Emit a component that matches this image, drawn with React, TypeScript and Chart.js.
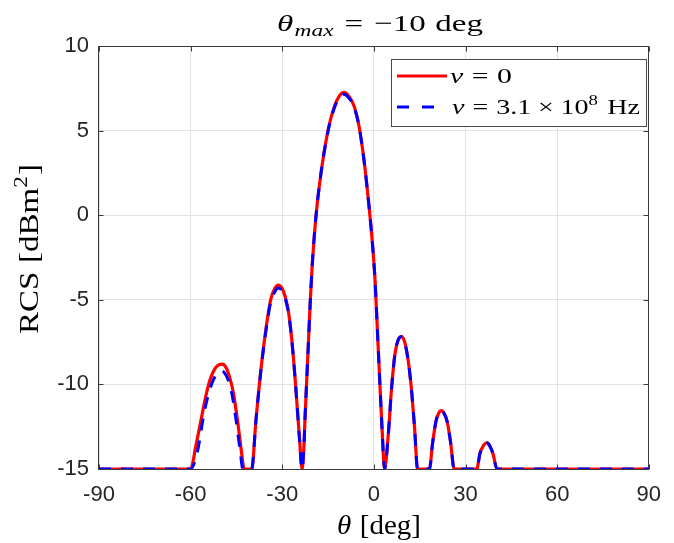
import React, { useEffect, useRef } from 'react';
import { Chart, registerables } from 'chart.js';

Chart.register(...registerables);

// ---- data ----
const thetaRed = [
  -90, -60, -58.3, -56.7, -55.1, -53.6, -52.0, -50.5, -49.6, -48.4, -47.2, -46.0, -44.6, -43.2, -42.5,
  -40.0, -38.6, -37.0, -35.4, -33.8, -32.5, -31.3, -30.0, -28.9, -27.8, -26.6, -25.4, -24.4, -23.5,
  -23.0, -22.5, -22.0, -21.4, -20.8, -20.2, -19.5, -18.6, -17.6, -16.4, -14.8, -13.0, -11.3, -9.8,
  -8.3, -6.5, -4.8, -3.2, -1.8, -0.6, 0.4, 1.1, 1.9, 2.7, 3.5,
  4.7, 5.8, 6.9, 8.0, 9.0, 10.0, 10.8, 11.6, 12.4, 13.3, 14.3,
  18.2, 19.2, 20.3, 21.2, 22.1, 23.1, 24.0, 25.1, 26.3,
  33.7, 34.7, 35.9, 37.0, 38.0, 39.0, 40.3, 90,
];
const rcsRed = [
  -15, -15, -13.65, -12.2, -10.75, -9.7, -9.05, -8.82, -8.8, -9.0, -9.6, -10.5, -12.2, -14.2, -15,
  -15, -12.1, -9.15, -6.8, -5.0, -4.35, -4.13, -4.35, -4.9, -5.9, -7.9, -10.6, -13.1, -15,
  -14.0, -11.8, -9.8, -7.4, -5.0, -3.0, -1.2, 0.6, 2.1, 3.6, 5.2, 6.4, 7.05, 7.26,
  7.05, 6.45, 5.2, 3.2, 0.9, -1.4, -3.9, -6.6, -9.7, -12.7, -15,
  -13.0, -10.2, -8.2, -7.35, -7.18, -7.45, -8.1, -9.1, -10.5, -12.5, -15,
  -15, -13.5, -12.2, -11.7, -11.55, -11.75, -12.2, -13.4, -15,
  -15, -14.1, -13.6, -13.45, -13.65, -14.1, -15, -15,
];
const thetaBlue = [
  -90, -60, -57.8, -55.7, -54.2, -52.6, -51.2, -50.2, -49.0, -47.8, -46.6, -45.2, -43.8, -42.9,
  -40.0, -38.6, -37.0, -35.4, -33.8, -32.5, -31.3, -30.0, -28.9, -27.8, -26.6, -25.4, -24.4, -23.5,
  -23.0, -22.5, -22.0, -21.4, -20.8, -20.2, -19.5, -18.6, -17.6, -16.4, -14.8, -13.0, -11.3, -9.8,
  -8.3, -6.5, -4.8, -3.2, -1.8, -0.6, 0.4, 1.1, 1.9, 2.7, 3.5,
  4.7, 5.8, 6.9, 8.0, 9.0, 10.0, 10.8, 11.6, 12.4, 13.3, 14.3,
  18.2, 19.2, 20.3, 21.2, 22.1, 23.1, 24.0, 25.1, 26.3,
  33.7, 34.7, 35.9, 37.0, 38.0, 39.0, 40.3, 90,
];
const rcsBlue = [
  -15, -15, -14.0, -11.8, -10.6, -9.75, -9.33, -9.22, -9.3, -9.7, -10.45, -12.0, -13.9, -15,
  -15, -12.1, -9.2, -6.9, -5.15, -4.55, -4.3, -4.5, -5.0, -5.95, -7.9, -10.6, -13.1, -15,
  -14.0, -11.8, -9.8, -7.4, -5.0, -3.0, -1.2, 0.6, 2.1, 3.6, 5.15, 6.3, 6.95, 7.15,
  6.95, 6.4, 5.2, 3.2, 0.9, -1.4, -3.9, -6.6, -9.7, -12.7, -15,
  -13.0, -10.2, -8.2, -7.35, -7.18, -7.45, -8.1, -9.1, -10.5, -12.5, -15,
  -15, -13.5, -12.2, -11.7, -11.55, -11.75, -12.2, -13.4, -15,
  -15, -14.1, -13.6, -13.45, -13.65, -14.1, -15, -15,
];
const xTicks = [-90, -60, -30, 0, 30, 60, 90];
const yTicks = [-15, -10, -5, 0, 5, 10];
const seriesLabels = ['ν = 0', 'ν = 3.1 × 10^8 Hz'];

type Part = { t: string; s: number; i?: boolean; dy?: number; g?: number };

const serif = (size: number, italic?: boolean) =>
  `${italic ? 'italic ' : ''}${size}px "Liberation Serif", "DejaVu Serif", serif`;

function drawRich(ctx: CanvasRenderingContext2D, parts: Part[], x: number, y: number, align: 'center' | 'left', target?: number) {
  ctx.save();
  ctx.textBaseline = 'alphabetic';
  ctx.textAlign = 'left';
  ctx.fillStyle = '#000';
  const ws = parts.map((p) => {
    ctx.font = serif(p.s, p.i);
    return ctx.measureText(p.t).width;
  });
  let total = 0;
  parts.forEach((p, k) => (total += (p.g || 0) + ws[k]));
  const sx = target ? target / total : 1;
  ctx.translate(x, y);
  ctx.scale(sx, 1);
  let cx = align === 'center' ? -total / 2 : 0;
  parts.forEach((p, k) => {
    cx += p.g || 0;
    ctx.font = serif(p.s, p.i);
    ctx.fillText(p.t, cx, p.dy || 0);
    cx += ws[k];
  });
  ctx.restore();
}

const framePlugin = {
  id: 'frame',
  beforeDatasetsDraw(chart: any) {
    const { ctx, chartArea: a, scales } = chart;
    ctx.save();
    ctx.strokeStyle = '#3a3a3a';
    ctx.lineWidth = 1;
    const l = Math.round(a.left) - 0.5;
    const r = Math.round(a.right) - 0.5;
    const t = Math.round(a.top) + 0.5;
    const b = Math.round(a.bottom) + 0.5;
    ctx.strokeRect(l, t, r - l, b - t);
    ctx.beginPath();
    xTicks.forEach((v) => {
      const px = Math.round(scales.x.getPixelForValue(v)) + 0.5;
      ctx.moveTo(px, b); ctx.lineTo(px, b - 5);
      ctx.moveTo(px, t); ctx.lineTo(px, t + 5);
    });
    yTicks.forEach((v) => {
      const py = Math.round(scales.y.getPixelForValue(v)) + 0.5;
      ctx.moveTo(l, py); ctx.lineTo(l + 5, py);
      ctx.moveTo(r, py); ctx.lineTo(r - 5, py);
    });
    ctx.stroke();
    ctx.restore();
  },
  afterDraw(chart: any) {
    const { ctx } = chart;
    // title
    drawRich(ctx, [
      { t: 'θ', s: 24, i: true },
      { t: 'max', s: 17, i: true, dy: 5, g: 1 },
      { t: '=', s: 24, g: 8 },
      { t: '−10', s: 24, g: 8 },
      { t: 'deg', s: 24, g: 7 },
    ], 380, 31, 'center', 206);
    // x label
    drawRich(ctx, [
      { t: 'θ', s: 27, i: true },
      { t: '[deg]', s: 27, g: 8 },
    ], 379, 534, 'center', 84);
    // y label (rotated)
    ctx.save();
    ctx.translate(38, 249);
    ctx.rotate(-Math.PI / 2);
    drawRich(ctx, [
      { t: 'RCS', s: 27 },
      { t: '[dBm', s: 27, g: 7 },
      { t: '2', s: 19, dy: -11 },
      { t: ']', s: 27, g: 1 },
    ], 0, 0, 'center', 170);
    ctx.restore();
    // legend
    ctx.save();
    ctx.fillStyle = '#fff';
    ctx.fillRect(392, 59, 255, 67);
    ctx.strokeStyle = '#4a4a4a';
    ctx.lineWidth = 1;
    ctx.strokeRect(391.5, 59.5, 255, 67);
    ctx.lineWidth = 3;
    ctx.strokeStyle = '#ff0000';
    ctx.beginPath(); ctx.moveTo(397, 76); ctx.lineTo(447, 76); ctx.stroke();
    ctx.strokeStyle = '#0000ff';
    ctx.setLineDash([12, 13]);
    ctx.beginPath(); ctx.moveTo(397, 107); ctx.lineTo(447, 107); ctx.stroke();
    ctx.setLineDash([]);
    ctx.restore();
    drawRich(ctx, [
      { t: 'ν', s: 21, i: true },
      { t: '=', s: 21, g: 6 },
      { t: '0', s: 21, g: 6 },
    ], 450, 83, 'left', 62);
    drawRich(ctx, [
      { t: 'ν', s: 21, i: true },
      { t: '=', s: 21, g: 6 },
      { t: '3.1', s: 21, g: 6 },
      { t: '×', s: 21, g: 5 },
      { t: '10', s: 21, g: 5 },
      { t: '8', s: 14, dy: -9 },
      { t: 'Hz', s: 21, g: 7 },
    ], 452, 114, 'left', 188);
  },
};

export default function App() {
  const ref = useRef<HTMLCanvasElement | null>(null);
  useEffect(() => {
    if (!ref.current) return;
    const red = thetaRed.map((x, k) => ({ x, y: rcsRed[k] }));
    const blue = thetaBlue.map((x, k) => ({ x, y: rcsBlue[k] }));
    const tickFont = { family: '"Liberation Sans", Arial, sans-serif', size: 22 };
    const chart = new Chart(ref.current, {
      type: 'line',
      data: {
        datasets: [
          {
            label: seriesLabels[1],
            data: blue,
            borderColor: '#0000ff',
            borderWidth: 3,
            borderDash: [12, 10],
            pointRadius: 0,
            cubicInterpolationMode: 'monotone',
            fill: false,
          },
          {
            label: seriesLabels[0],
            data: red,
            borderColor: '#ff0000',
            borderWidth: 3.2,
            pointRadius: 0,
            cubicInterpolationMode: 'monotone',
            fill: false,
          },
        ],
      },
      options: {
        responsive: false,
        animation: false,
        devicePixelRatio: 1,
        layout: { padding: { top: 46, right: 15, left: 0, bottom: 0 } },
        plugins: { legend: { display: false }, title: { display: false }, tooltip: { enabled: false } },
        scales: {
          x: {
            type: 'linear',
            min: -90,
            max: 90,
            afterBuildTicks: (s: any) => { s.ticks = xTicks.map((v) => ({ value: v })); },
            afterFit: (s: any) => { s.height = 74; },
            grid: { color: '#e2e2e2', lineWidth: 1, drawTicks: false },
            border: { display: false },
            ticks: { font: tickFont, color: '#262626', padding: 13, maxRotation: 0, callback: (v: any) => String(v) },
          },
          y: {
            type: 'linear',
            min: -15,
            max: 10,
            afterBuildTicks: (s: any) => { s.ticks = yTicks.map((v) => ({ value: v })); },
            afterFit: (s: any) => { s.width = 99; },
            grid: { color: '#e2e2e2', lineWidth: 1, drawTicks: false },
            border: { display: false },
            ticks: { font: tickFont, color: '#262626', padding: 10, callback: (v: any) => String(v) },
          },
        },
      },
      plugins: [framePlugin],
    } as any);
    return () => chart.destroy();
  }, []);
  return (
    <div style={{ position: 'fixed', left: 0, top: 0, width: 674, height: 543, background: '#fff' }}>
      <canvas ref={ref} width={674} height={543} />
    </div>
  );
}
